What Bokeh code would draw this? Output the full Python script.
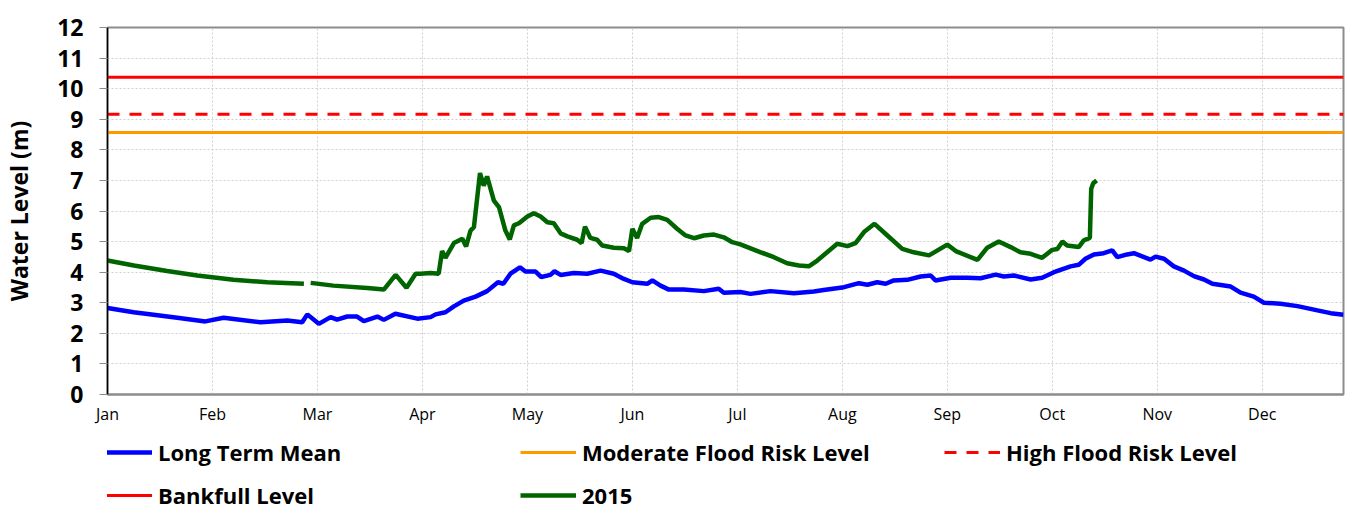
import numpy as np
from bokeh.plotting import figure
from bokeh.layouts import column
from bokeh.models import Legend, LegendItem, FixedTicker, Range1d
from bokeh.embed import file_html
from bokeh.resources import INLINE

# ---------------- data ----------------
month_labels = ["Jan", "Feb", "Mar", "Apr", "May", "Jun",
                "Jul", "Aug", "Sep", "Oct", "Nov", "Dec"]
month_ticks = [0, 31, 62, 93, 124, 155, 186, 217, 248, 279, 310, 341]
year_days = [0, 365]

ltm_day = [0, 7.7, 13.6, 20.6, 28.9, 34.3, 45.2, 53.1, 57.5, 59, 62.4, 65.9, 67.8,
           70.8, 73.7, 75.7, 79.7, 81.6, 85, 91.5, 95.4, 96.9, 99.8, 102.3, 105.2,
           108.7, 112.1, 115.3, 116.9, 119, 121.8, 123.4, 126.4, 128.1, 130.8, 132,
           133.8, 137.7, 141.7, 145.6, 149.5, 152.5, 155, 159.4, 160.9, 163.3, 165.8,
           170.2, 176.1, 180.5, 182, 186.9, 189.9, 195.8, 202.7, 208.6, 211.5, 217.5,
           221.9, 224.4, 227.3, 229.8, 232.2, 236.2, 240.1, 243.1, 244.5, 249, 253.9,
           257.8, 262.3, 264.7, 267.7, 272.6, 276, 279.5, 284.4, 286.8, 288.8, 291.3,
           294.2, 296.7, 298.2, 301.1, 303.1, 308, 309.5, 312, 314.9, 317.9, 320.8,
           323.8, 326.3, 331.7, 334.6, 338.5, 341.5, 346.4, 351.4, 357.3, 361.2, 365]
ltm_level = [2.83, 2.69, 2.61, 2.51, 2.39, 2.51, 2.36, 2.42, 2.36, 2.62, 2.31, 2.53, 2.45,
             2.55, 2.55, 2.40, 2.55, 2.44, 2.64, 2.48, 2.53, 2.62, 2.69, 2.88, 3.07,
             3.20, 3.38, 3.67, 3.62, 3.95, 4.16, 4.02, 4.02, 3.84, 3.91, 4.03,
             3.91, 3.97, 3.95, 4.05, 3.95, 3.78, 3.67, 3.62, 3.73, 3.56, 3.43,
             3.43, 3.38, 3.46, 3.33, 3.35, 3.29, 3.38, 3.31, 3.37, 3.42, 3.51,
             3.64, 3.59, 3.67, 3.62, 3.73, 3.75, 3.86, 3.89, 3.73, 3.82, 3.82,
             3.80, 3.92, 3.86, 3.89, 3.76, 3.82, 4.00, 4.19, 4.24, 4.44, 4.58,
             4.62, 4.71, 4.49, 4.58, 4.62, 4.41, 4.51, 4.44, 4.19, 4.05, 3.87,
             3.76, 3.62, 3.53, 3.33, 3.20, 3.00, 2.97, 2.89, 2.75, 2.66, 2.61]

y2015_day = [0, 7.8, 17.6, 26.5, 37.2, 47.2, 58, 59, 60, 66.7, 76.7, 81.6, 85.1, 88.3,
             91, 92.4, 95.4, 97.8, 98.8, 99.8, 102.3, 104.8, 105.9, 107.2, 108.2, 110,
             111.1, 112.1, 114.1, 115.6, 117.5, 118.8, 120, 121.5, 124, 125.9, 127.9,
             129.9, 131.8, 133.8, 135.8, 138.7, 140, 141, 142.6, 144.6, 146.1, 149.5,
             152.5, 154, 155, 156.4, 157.9, 160.4, 162.8, 165.3, 168.2, 170.7, 173.2,
             176.1, 179.1, 182, 184.5, 186.9, 189.9, 192.9, 196.8, 200.7, 204.2, 207.1,
             209.6, 215.5, 218.5, 220.9, 223.4, 226.5, 230.3, 234.7, 238.1, 242.6, 248,
             250.5, 256.9, 259.8, 263.2, 266.7, 269.6, 272.6, 276, 279, 280.5, 282,
             283.4, 286.8, 288.3, 290.1, 290.5, 291.1, 292.1]
y2015_level = [4.38, 4.22, 4.04, 3.89, 3.75, 3.67, 3.62, np.nan, 3.65, 3.56, 3.48, 3.43, 3.91, 3.49,
               3.95, 3.95, 3.97, 3.95, 4.69, 4.47, 4.95, 5.09, 4.84, 5.36, 5.47, 7.24,
               6.83, 7.13, 6.34, 6.13, 5.36, 5.07, 5.53, 5.60, 5.82, 5.93, 5.82,
               5.63, 5.60, 5.27, 5.17, 5.06, 4.95, 5.49, 5.12, 5.06, 4.87, 4.80,
               4.78, 4.69, 5.42, 5.12, 5.58, 5.78, 5.80, 5.71, 5.42, 5.20, 5.11,
               5.20, 5.23, 5.14, 4.98, 4.91, 4.78, 4.65, 4.49, 4.29, 4.22, 4.19,
               4.38, 4.93, 4.85, 4.95, 5.31, 5.58, 5.20, 4.76, 4.65, 4.55, 4.90,
               4.69, 4.40, 4.80, 5.00, 4.82, 4.65, 4.60, 4.47, 4.73, 4.76, 5.00,
               4.87, 4.82, 5.04, 5.12, 6.73, 6.91, 7.00]

moderate_level = 8.57
high_level = 9.16
bankfull_level = 10.37

FONT = "Open Sans"
STYLES = {
    "bank": dict(line_color="#ff0000", line_width=3),
    "high": dict(line_color="#ff0000", line_width=3, line_dash="12 10"),
    "mod": dict(line_color="#ff9900", line_width=3),
    "ltm": dict(line_color="#0000ff", line_width=4.5),
    "y2015": dict(line_color="#006400", line_width=4.5),
}


def add_series(fig):
    r = {}
    r["bank"] = fig.line(year_days, [bankfull_level] * 2, **STYLES["bank"])
    r["high"] = fig.line(year_days, [high_level] * 2, **STYLES["high"])
    r["mod"] = fig.line(year_days, [moderate_level] * 2, **STYLES["mod"])
    r["ltm"] = fig.line(ltm_day, ltm_level, **STYLES["ltm"])
    r["y2015"] = fig.line(y2015_day, y2015_level, **STYLES["y2015"])
    return r


# ---------------- main chart ----------------
p = figure(frame_width=1236, frame_height=367, output_backend="svg", toolbar_location=None,
           x_range=Range1d(year_days[0], year_days[1]), y_range=Range1d(0, 12),
           min_border_left=107, min_border_top=27, min_border_right=19, min_border_bottom=30)
p.background_fill_color = "white"
p.border_fill_color = "white"
p.outline_line_color = "#8c8c8c"
p.outline_line_width = 2

p.xgrid.ticker = FixedTicker(ticks=month_ticks)
p.ygrid.ticker = FixedTicker(ticks=list(range(0, 13)))
for g in (p.xgrid, p.ygrid):
    g.grid_line_color = "#d0d0d0"
    g.grid_line_dash = "2 2"
    g.grid_line_width = 1

p.xaxis.ticker = FixedTicker(ticks=month_ticks)
p.xaxis.major_label_overrides = {t: l for t, l in zip(month_ticks, month_labels)}
p.xaxis.major_label_text_font = FONT
p.xaxis.major_label_text_font_size = "16px"
p.xaxis.major_label_text_color = "black"
p.xaxis.major_tick_out = 0
p.xaxis.major_tick_in = 0
p.xaxis.minor_tick_line_color = None
p.xaxis.axis_line_color = "#8c8c8c"
p.xaxis.axis_line_width = 2
p.xaxis.major_label_standoff = 8

p.yaxis.ticker = FixedTicker(ticks=list(range(0, 13)))
p.yaxis.major_label_text_font = FONT
p.yaxis.major_label_text_font_size = "23px"
p.yaxis.major_label_text_font_style = "bold"
p.yaxis.major_label_text_color = "black"
p.yaxis.major_tick_out = 8
p.yaxis.major_tick_in = 0
p.yaxis.major_tick_line_color = "#8c8c8c"
p.yaxis.minor_tick_line_color = None
p.yaxis.axis_line_color = "black"
p.yaxis.axis_line_width = 1.5
p.yaxis.major_label_standoff = 16
p.yaxis.axis_label = "Water Level (m)"
p.yaxis.axis_label_text_font = FONT
p.yaxis.axis_label_text_font_size = "23px"
p.yaxis.axis_label_text_font_style = "bold"
p.yaxis.axis_label_text_color = "black"
p.yaxis.axis_label_standoff = 19

add_series(p)

# ---------------- legend strip (same series, kept out of view) ----------------
leg_fig = figure(width=1362, height=98, output_backend="svg", toolbar_location=None,
                 x_axis_type=None, y_axis_type=None,
                 x_range=Range1d(year_days[0], year_days[1]), y_range=Range1d(100, 101),
                 min_border=0)
leg_fig.outline_line_color = None
leg_fig.xgrid.visible = False
leg_fig.ygrid.visible = False
lr = add_series(leg_fig)

legend = Legend(items=[
    LegendItem(label="Long Term Mean", renderers=[lr["ltm"]]),
    LegendItem(label="Moderate Flood Risk Level", renderers=[lr["mod"]]),
    LegendItem(label="High Flood Risk Level", renderers=[lr["high"]]),
    LegendItem(label="Bankfull Level", renderers=[lr["bank"]]),
    LegendItem(label="2015", renderers=[lr["y2015"]]),
], orientation="horizontal", ncols=3, location=(-11, 12))
legend.label_text_font = FONT
legend.label_text_font_size = "22px"
legend.label_text_font_style = "bold"
legend.label_text_color = "black"
legend.glyph_width = 56
legend.glyph_height = 36
legend.label_height = 36
legend.label_width = 355
legend.label_standoff = 6
legend.spacing = 7
legend.padding = 0
legend.margin = 0
legend.border_line_color = None
legend.background_fill_alpha = 0
legend.click_policy = "none"
leg_fig.add_layout(legend, "center")

layout = column(p, leg_fig, spacing=0)
open("out.html", "w").write(file_html(layout, INLINE))
